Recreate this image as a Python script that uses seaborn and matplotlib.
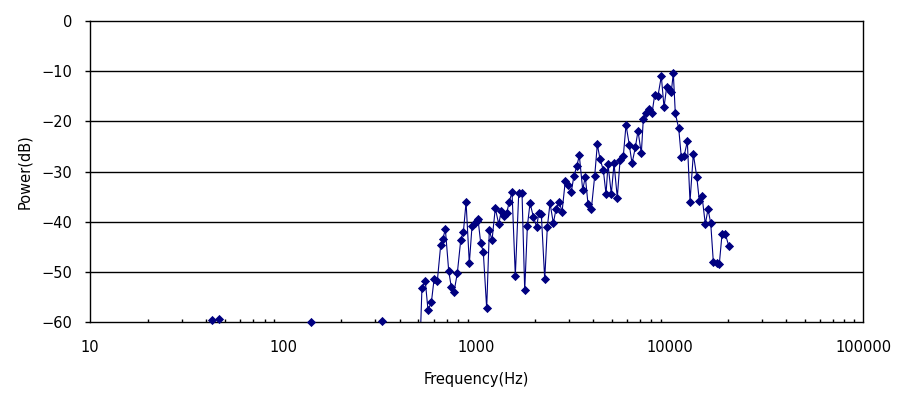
import matplotlib
matplotlib.use("Agg")
import matplotlib.pyplot as plt
import matplotlib.ticker as mticker
import numpy as np
import pandas as pd
import seaborn as sns

# isolated low-frequency points sitting on the -60 dB floor
low_freq = [42.9, 46.5, 140.0, 323.0]
low_power = [-59.6, -59.4, -60.0, -59.7]

# main spectrum trace (first point is below the axis floor)
freq = [500, 522, 543, 561, 584, 603, 627, 653, 669, 690,
        718, 741, 765, 796, 829, 855, 883, 918, 948, 979,
        1002, 1018, 1051, 1084, 1129, 1165, 1203, 1251, 1303, 1344,
        1388, 1433, 1478, 1527, 1588, 1654, 1720, 1776, 1833, 1892,
        1968, 2049, 2099, 2165, 2254, 2325, 2401, 2498, 2579, 2683,
        2770, 2880, 2976, 3095, 3195, 3300, 3404, 3545, 3656, 3776,
        3928, 4089, 4218, 4356, 4531, 4679, 4792, 4984, 5147, 5353,
        5529, 5751, 5938, 6176, 6379, 6635, 6850, 7126, 7298, 7536,
        7783, 8095, 8359, 8694, 9043, 9339, 9644, 9948, 10186, 10433,
        10683, 11126, 11477, 11853, 12327, 12730, 13241, 13790, 14223, 14687,
        15276, 15776, 16291, 16806, 17500, 18050, 18640, 19390, 20193]
power = [-75.0, -53.2, -51.8, -57.6, -56.1, -51.5, -51.8, -44.6, -43.5, -41.5,
         -49.8, -53.1, -54.0, -50.2, -43.6, -42.1, -36.1, -48.3, -40.9, -40.3,
         -39.8, -39.5, -44.2, -46.0, -57.3, -41.7, -43.7, -37.3, -40.5, -37.8,
         -38.8, -38.3, -36.0, -34.1, -50.8, -34.3, -34.3, -53.7, -40.9, -36.3,
         -39.0, -41.1, -38.3, -38.5, -51.5, -41.1, -36.3, -40.3, -37.5, -36.0,
         -38.1, -31.9, -32.7, -34.0, -30.8, -29.0, -26.8, -33.7, -31.0, -36.5,
         -37.5, -30.9, -24.6, -27.5, -29.7, -34.5, -28.6, -34.5, -28.4, -35.2,
         -27.8, -26.9, -20.7, -24.7, -28.4, -25.2, -21.9, -26.4, -19.5, -18.3,
         -17.5, -18.4, -14.7, -14.9, -11.0, -17.2, -13.1, -13.6, -14.1, -10.4,
         -18.4, -21.4, -27.2, -27.0, -24.0, -36.0, -26.5, -31.0, -35.8, -34.9,
         -40.5, -37.5, -40.3, -48.0, -48.3, -48.4, -42.5, -42.5, -44.8]

x_ticks = [10, 100, 1000, 10000, 100000]
x_labels = ["10", "100", "1000", "10000", "100000"]
y_ticks = [0, -10, -20, -30, -40, -50, -60]

navy = "#000080"

sns.set_style("white")
plt.rcParams["font.family"] = ["DejaVu Sans"]
plt.rcParams["text.color"] = "black"
plt.rcParams["axes.labelcolor"] = "black"
plt.rcParams["xtick.color"] = "black"
plt.rcParams["ytick.color"] = "black"

df = pd.DataFrame({
    "freq": low_freq + freq,
    "power": low_power + power,
    "trace": list(range(len(low_freq))) + [len(low_freq)] * len(freq),
})

fig = plt.figure(figsize=(9, 3.94), dpi=100)
ax = fig.add_axes([0.1, 0.1827, 0.8589, 0.764])

sns.lineplot(data=df, x="freq", y="power", units="trace", estimator=None,
             color=navy, linewidth=0.8, legend=False, ax=ax, sort=False)
shown = df[df["power"] >= -60]
sns.scatterplot(data=shown, x="freq", y="power", marker="D", s=22,
                color=navy, edgecolor=navy, linewidth=0, ax=ax,
                legend=False, clip_on=False, zorder=5)

ax.set_xscale("log")
ax.set_xlim(10, 100000)
ax.set_ylim(-60, 0)
ax.set_xticks(x_ticks)
ax.xaxis.set_major_formatter(mticker.FixedFormatter(x_labels))
ax.xaxis.set_minor_locator(mticker.LogLocator(base=10, subs=np.arange(2, 10)))
ax.xaxis.set_minor_formatter(mticker.NullFormatter())
ax.set_yticks(y_ticks)

ax.grid(False)
for y in y_ticks[1:-1]:
    ax.axhline(y, color="black", linewidth=1, zorder=1)

for s in ax.spines.values():
    s.set_visible(True)
    s.set_color("black")
    s.set_linewidth(1)

ax.tick_params(axis="x", which="major", direction="in", length=4.5,
               width=1, colors="black", labelsize=10.5, pad=13)
ax.tick_params(axis="x", which="minor", direction="in", length=2.5,
               width=1, colors="black", bottom=True)
ax.tick_params(axis="y", which="major", direction="out", length=3.5,
               width=1, colors="black", labelsize=10.5, pad=9, left=True)

ax.set_xlabel("Frequency(Hz)", fontsize=10.5, labelpad=12, color="black")
ax.set_ylabel("Power(dB)", fontsize=10.5, labelpad=7, color="black")

fig.savefig("out.png", dpi=100)
